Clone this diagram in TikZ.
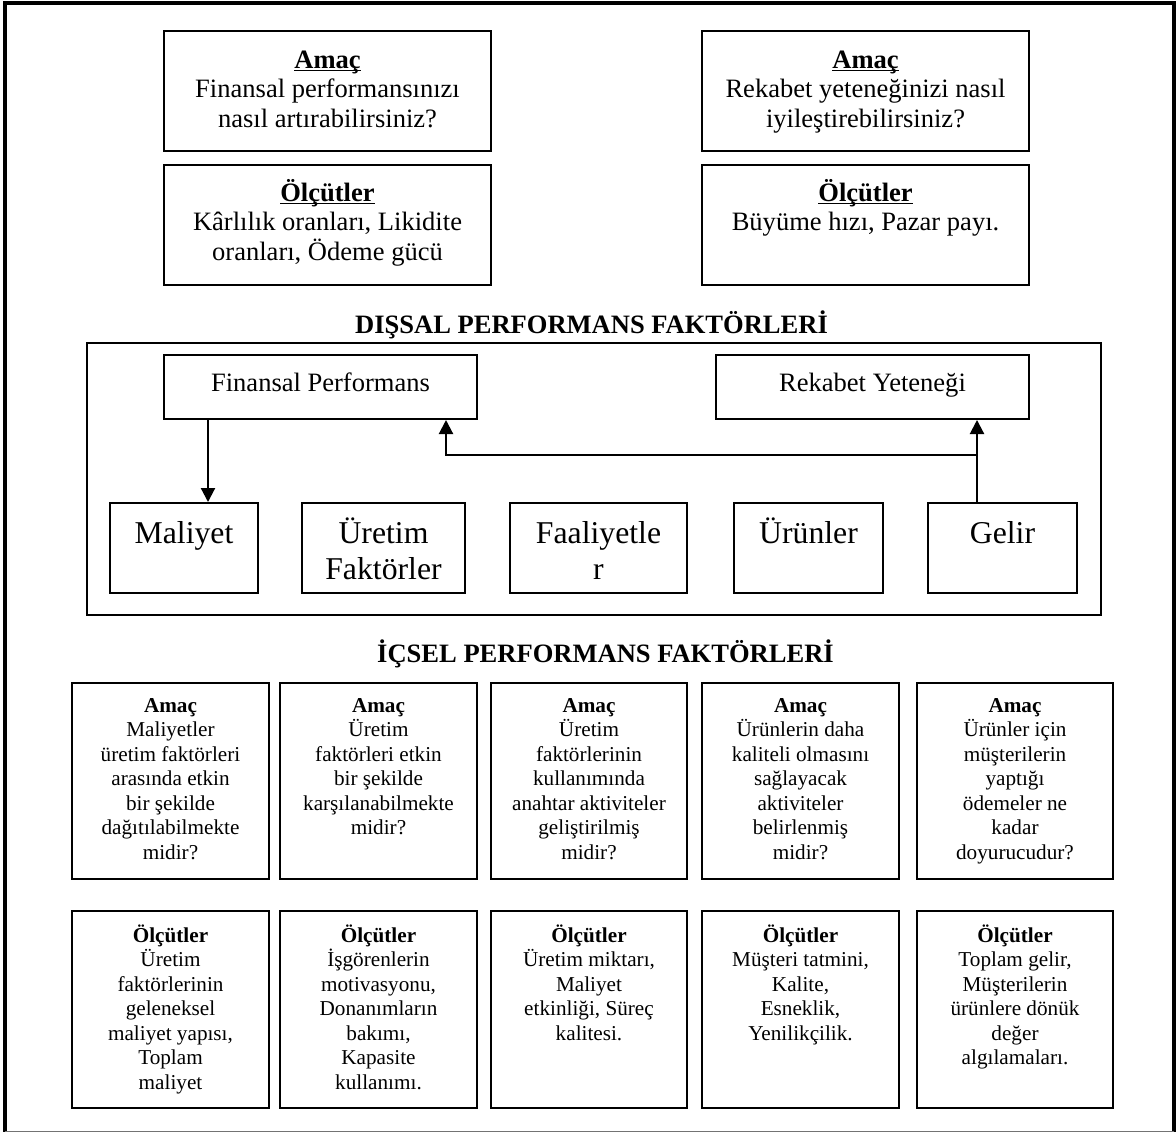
\documentclass[tikz,border=0pt]{standalone}
\usepackage{fontspec}
\setmainfont{Liberation Serif}
\usetikzlibrary{arrows.meta,fit}

% font size / baseline skip in pt
\newcommand\setfs[2]{\fontsize{#1}{#2}\selectfont}
% centred lines at a fixed baseline distance; the box baseline is the first line
\newcommand\ml[1]{\vtop{\lineskiplimit=-\maxdimen\lineskip=0pt\halign{\hfil##\hfil\cr#1\crcr}}}
% underline drawn just under the baseline
\newcommand\undl[1]{\setbox0\hbox{#1}\rlap{\rule[-2.6pt]{\wd0}{1.4pt}}\box0}

\begin{document}
\begin{tikzpicture}[x=0.75pt,y=-0.75pt,
  box/.style={draw, line width=1.5pt, inner sep=0pt},
  outer/.style={draw, line width=1.3pt, inner sep=0pt},
  txt/.style={inner sep=0pt, anchor=base},
  big/.style={txt, font={\setfs{19.9}{22.3}}},
  ttl/.style={txt, font={\setfs{19.9}{22.3}\bfseries}},
  fac/.style={txt, font={\setfs{23.8}{27.2}}},
  cell/.style={txt, font={\setfs{15.9}{18.4}}},
  arr/.style={line width=1.6pt, -{Triangle[width=10.5pt,length=10.5pt]}}]

\useasboundingbox (0,0) rectangle (1176,1133);

% page frame
\draw[line width=2.3pt] (5,1131.5) -- (5,3) -- (1174,3) -- (1174,1131.5);
\draw[line width=1.1pt, black!55] (5,1131.5) -- (1174,1131.5);

% ---- external goals and measures ----
\node[box, fit={(164,31)(491,151)}] (goalF) {};
\node[big] (goalFt) at (327.5,68) {\ml{\undl{\textbf{Amaç}}\cr Finansal performansınızı\cr nasıl artırabilirsiniz?}};
\node[box, fit={(164,165)(491,285)}] (measF) {};
\node[big] (measFt) at (327.5,201) {\ml{\undl{\textbf{Ölçütler}}\cr Kârlılık oranları, Likidite\cr oranları, Ödeme gücü}};

\node[box, fit={(702,31)(1029,151)}] (goalR) {};
\node[big] (goalRt) at (865.5,68) {\ml{\undl{\textbf{Amaç}}\cr Rekabet yeteneğinizi nasıl\cr iyileştirebilirsiniz?}};
\node[box, fit={(702,165)(1029,285)}] (measR) {};
\node[big] (measRt) at (865.5,201) {\ml{\undl{\textbf{Ölçütler}}\cr Büyüme hızı, Pazar payı.}};

% ---- external factors ----
\node[ttl] (extT) at (591.5,333) {DIŞSAL PERFORMANS FAKTÖRLERİ};
\node[outer, fit={(87,343)(1101,615)}] (extBox) {};

\node[box, fit={(164,355)(477,419)}] (fin) {};
\node[big] (finT) at (320.5,391.5) {Finansal Performans};
\node[box, fit={(716,355)(1029,419)}] (rek) {};
\node[big] (rekT) at (872.5,391.5) {Rekabet Yeteneği};

\node[box, fit={(110,503)(258,593)}] (mal) {};
\node[fac] (malT) at (184,543) {\ml{Maliyet}};
\node[box, fit={(302,503)(465,593)}] (ure) {};
\node[fac] (ureT) at (383.5,543) {\ml{Üretim\cr Faktörler}};
\node[box, fit={(510,503)(687,593)}] (faa) {};
\node[fac] (faaT) at (598.5,543) {\ml{Faaliyetle\cr r}};
\node[box, fit={(734,503)(883,593)}] (urn) {};
\node[fac] (urnT) at (808.5,543) {\ml{Ürünler}};
\node[box, fit={(928,503)(1077,593)}] (gel) {};
\node[fac] (gelT) at (1002.5,543) {\ml{Gelir}};

\coordinate (mx) at (208,455);
\coordinate (bx) at (446,455);
\coordinate (gx) at (977,455);
\draw[arr] (fin.south -| mx) -- (mal.north -| mx);
\draw[arr] (gel.north -| gx) -- (rek.south -| gx);
\draw[arr] (gx) -- (bx) -- (fin.south -| bx);

% ---- internal factors ----
\node[ttl] (intT) at (605.5,662) {İÇSEL PERFORMANS FAKTÖRLERİ};

\node[box, fit={(72,683)(269,879)}] (g1) {};
\node[cell] (g1t) at (170.5,712) {\ml{\textbf{Amaç}\cr Maliyetler\cr üretim faktörleri\cr arasında etkin\cr bir şekilde\cr dağıtılabilmekte\cr midir?}};
\node[box, fit={(280,683)(477,879)}] (g2) {};
\node[cell] (g2t) at (378.5,712) {\ml{\textbf{Amaç}\cr Üretim\cr faktörleri etkin\cr bir şekilde\cr karşılanabilmekte\cr midir?}};
\node[box, fit={(491,683)(687,879)}] (g3) {};
\node[cell] (g3t) at (589,712) {\ml{\textbf{Amaç}\cr Üretim\cr faktörlerinin\cr kullanımında\cr anahtar aktiviteler\cr geliştirilmiş\cr midir?}};
\node[box, fit={(702,683)(899,879)}] (g4) {};
\node[cell] (g4t) at (800.5,712) {\ml{\textbf{Amaç}\cr Ürünlerin daha\cr kaliteli olmasını\cr sağlayacak\cr aktiviteler\cr belirlenmiş\cr midir?}};
\node[box, fit={(917,683)(1113,879)}] (g5) {};
\node[cell] (g5t) at (1015,712) {\ml{\textbf{Amaç}\cr Ürünler için\cr müşterilerin\cr yaptığı\cr ödemeler ne\cr kadar\cr doyurucudur?}};

\node[box, fit={(72,911)(269,1108)}] (m1) {};
\node[cell] (m1t) at (170.5,942) {\ml{\textbf{Ölçütler}\cr Üretim\cr faktörlerinin\cr geleneksel\cr maliyet yapısı,\cr Toplam\cr maliyet}};
\node[box, fit={(280,911)(477,1108)}] (m2) {};
\node[cell] (m2t) at (378.5,942) {\ml{\textbf{Ölçütler}\cr İşgörenlerin\cr motivasyonu,\cr Donanımların\cr bakımı,\cr Kapasite\cr kullanımı.}};
\node[box, fit={(491,911)(687,1108)}] (m3) {};
\node[cell] (m3t) at (589,942) {\ml{\textbf{Ölçütler}\cr Üretim miktarı,\cr Maliyet\cr etkinliği, Süreç\cr kalitesi.}};
\node[box, fit={(702,911)(899,1108)}] (m4) {};
\node[cell] (m4t) at (800.5,942) {\ml{\textbf{Ölçütler}\cr Müşteri tatmini,\cr Kalite,\cr Esneklik,\cr Yenilikçilik.}};
\node[box, fit={(917,911)(1113,1108)}] (m5) {};
\node[cell] (m5t) at (1015,942) {\ml{\textbf{Ölçütler}\cr Toplam gelir,\cr Müşterilerin\cr ürünlere dönük\cr değer\cr algılamaları.}};

\end{tikzpicture}
\end{document}
